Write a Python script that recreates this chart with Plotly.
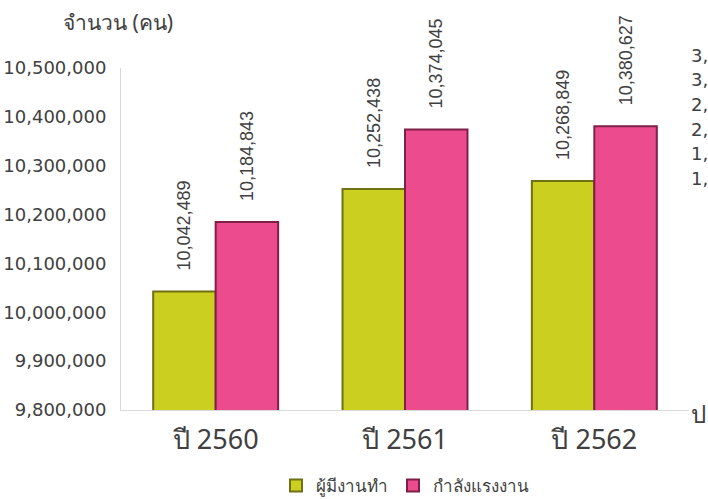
import plotly.graph_objects as go

categories = ["ปี 2560", "ปี 2561", "ปี 2562"]
employed = [10042489, 10252438, 10268849]
labour_force = [10184843, 10374045, 10380627]
series_names = ["ผู้มีงานทำ", "กำลังแรงงาน"]
y_ticks = [9800000, 9900000, 10000000, 10100000, 10200000, 10300000, 10400000, 10500000]
side_texts = ["3,", "3,", "2,", "2,", "1,", "1,"]

TICKFONT = "'DejaVu Sans', Tahoma, sans-serif"
LABELFONT = "'Liberation Sans', Arial, sans-serif"
THAIFONT = "Tahoma, 'Noto Sans', sans-serif"
GREY = "#404040"

L, R, T, B = 121, 19, 68, 89
PW, PH = 708 - L - R, 499 - T - B

fig = go.Figure()
fig.add_trace(go.Bar(
    x=categories, y=employed, name=series_names[0],
    marker=dict(color="#cbd020", line=dict(color="#6e7012", width=2)),
    text=["\u2002\u2002" + f"{v:,}" for v in employed], textposition="outside", textangle=-90,
    textfont=dict(size=18, color=GREY, family=LABELFONT), cliponaxis=False,
    constraintext="none",
))
fig.add_trace(go.Bar(
    x=categories, y=labour_force, name=series_names[1],
    marker=dict(color="#ec4c8e", line=dict(color="#7e1f47", width=2)),
    text=["\u2002\u2002" + f"{v:,}" for v in labour_force], textposition="outside", textangle=-90,
    textfont=dict(size=18, color=GREY, family=LABELFONT), cliponaxis=False,
    constraintext="none",
))

annotations = [dict(text="จำนวน (คน)", xref="paper", yref="paper", x=(118 - L) / PW,
                    y=(T + PH - 22) / PH, xanchor="center", yanchor="middle", showarrow=False,
                    font=dict(size=21, color=GREY, family=THAIFONT))]
side_y = [55, 79, 104, 129, 153, 178]
for t, py in zip(side_texts, side_y):
    annotations.append(dict(text=t, xref="paper", yref="paper", x=(689 - L) / PW,
                            y=(T + PH - py) / PH, xanchor="left", yanchor="middle",
                            showarrow=False, font=dict(size=18, color=GREY, family=TICKFONT)))
annotations.append(dict(text="ป", xref="paper", yref="paper", x=(689 - L) / PW,
                        y=(T + PH - 413) / PH, xanchor="left", yanchor="middle",
                        showarrow=False, font=dict(size=24, color=GREY, family=THAIFONT)))

fig.update_layout(
    width=708, height=499,
    margin=dict(l=L, r=R, t=T, b=B, autoexpand=False),
    paper_bgcolor="white", plot_bgcolor="white",
    barmode="group", bargap=0.34, bargroupgap=0.0,
    font=dict(family=TICKFONT, color=GREY),
    showlegend=True,
    legend=dict(orientation="h", x=0.5, xanchor="center", y=(T + PH - 486) / PH, yanchor="middle",
                font=dict(size=17, color=GREY, family=THAIFONT), itemsizing="constant"),
    annotations=annotations,
    xaxis=dict(showline=True, linecolor="#d9d9d9", linewidth=1, ticks="", automargin=False,
               ticklabelstandoff=6,
               tickfont=dict(size=27, color=GREY, family=THAIFONT), showgrid=False),
    yaxis=dict(range=[9800000, 10500000], tickvals=y_ticks, tickformat=",", automargin=False,
               showline=True, linecolor="#d9d9d9", linewidth=1, ticks="",
               showgrid=False, zeroline=False, ticklabelstandoff=10,
               tickfont=dict(size=18, color=GREY, family=TICKFONT)),
)

fig.write_html("out.html", config={"displayModeBar": False},
               post_script="document.body.style.margin='0px';document.body.style.overflow='hidden';")
